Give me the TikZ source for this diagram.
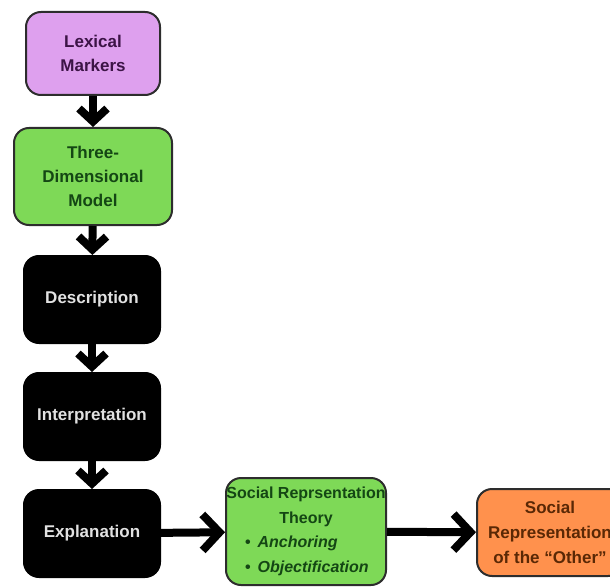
\documentclass[tikz,border=0pt]{standalone}
\usepackage{fontspec}
\setmainfont{Liberation Sans}
\usetikzlibrary{arrows.meta}
\definecolor{lexfill}{RGB}{222,160,238}
\definecolor{lextext}{RGB}{60,20,70}
\definecolor{grnfill}{RGB}{126,217,87}
\definecolor{grntext}{RGB}{20,70,20}
\definecolor{orgfill}{RGB}{255,145,77}
\definecolor{orgtext}{RGB}{90,40,5}
\definecolor{blktext}{RGB}{225,225,225}
\definecolor{edge}{RGB}{45,45,45}
\tikzset{
  box/.style={rounded corners=15pt, line width=2pt, draw=edge, align=center,
    inner sep=0pt, font=\fontsize{17}{24}\selectfont\bfseries},
  lexbox/.style={box, fill=lexfill, text=lextext},
  grnbox/.style={box, fill=grnfill, text=grntext},
  blkbox/.style={box, fill=black, draw=black, text=blktext},
  orgbox/.style={box, fill=orgfill, text=orgtext},
  varr/.style={line width=8pt, draw=black, -{Straight Barb[length=13pt,width=28pt]}},
  harr/.style={line width=8pt, draw=black, -{Straight Barb[length=17pt,width=36pt]}},
}
\begin{document}
\begin{tikzpicture}[x=1pt,y=-1pt]
\useasboundingbox (0,0) rectangle (610,588);
\node[lexbox, minimum width=134pt, minimum height=83pt] (lex) at (93,53.5) {Lexical\\Markers};
\node[grnbox, minimum width=158pt, minimum height=97pt] (tdm) at (93,176.5) {Three-\\Dimensional\\Model};
\node[blkbox, minimum width=136pt, minimum height=87pt] (desc) at (92,299.5) {Description};
\node[blkbox, minimum width=136pt, minimum height=87pt] (interp) at (92,416.5) {Interpretation};
\node[blkbox, minimum width=136pt, minimum height=87pt] (expl) at (92,533.5) {Explanation};
\node[grnbox, minimum width=160pt, minimum height=107pt, font=\fontsize{16}{24.5}\selectfont\bfseries] (srt) at (306,531.5)
  {Social Reprsentation\\Theory\\\makebox[122pt][l]{\textbullet\hspace{7pt}\textit{Anchoring}}\\\makebox[122pt][l]{\textbullet\hspace{7pt}\textit{Objectification}}};
\node[orgbox, minimum width=146pt, minimum height=87pt, font=\fontsize{17}{25}\selectfont\bfseries] (other) at (550,532.5) {Social\\Representation\\of the “Other”};
\draw[varr] (lex) -- (tdm);
\draw[varr] (tdm) -- (desc);
\draw[varr] (desc) -- (interp);
\draw[varr] (interp) -- (expl);
\draw[harr] (expl) -- (srt);
\draw[harr] (srt) -- (other);
\end{tikzpicture}
\end{document}
